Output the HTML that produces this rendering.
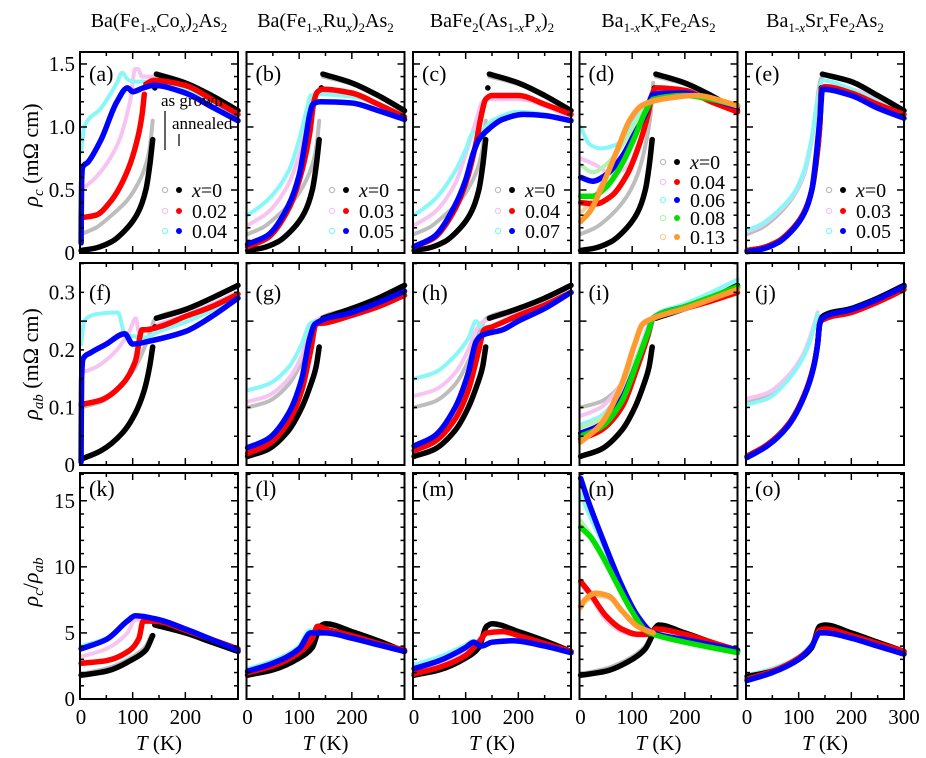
<!DOCTYPE html>
<html><head><meta charset="utf-8"><style>
body{margin:0;background:#fff}
svg{display:block;font-family:"Liberation Serif",serif}
svg text{font-family:"Liberation Serif",serif}
</style></head><body>
<svg id="chart" width="926" height="758" viewBox="0 0 926 758" xmlns="http://www.w3.org/2000/svg" font-family="Liberation Serif, serif"></svg>
<script>
// ---------- data (T in K, value) ----------
const tempTicks=[0,100,200,300];
const row1Ticks=[0,0.5,1.0,1.5], row1Labels=["0","0.5","1.0","1.5"];
const row2Ticks=[0,0.1,0.2,0.3], row2Labels=["0","0.1","0.2","0.3"];
const row3Ticks=[0,5,10,15], row3Labels=["0","5","10","15"];
// rho_c
const a_gray=[[2,.15],[30,.2],[60,.3],[90,.42],[110,.55],[125,.7],[133,.85],[138,1.05],null,[145,1.4],[200,1.34],[250,1.24],[300,1.12]];
const a_black=[[2,.02],[30,.04],[60,.09],[90,.2],[110,.32],[125,.5],[132,.68],[138,.9],null,[142,1.31],null,[145,1.42],[200,1.35],[250,1.25],[300,1.13]];
const a_pink=[[2,.5],[30,.6],[70,.85],[95,1.2],[105,1.46],[110,1.46],[118,1.4],[140,1.4],[200,1.35],[250,1.22],[300,1.1]];
const a_red=[[2,.28],[30,.3],[60,.42],[90,.65],[110,.92],[118,1.1],[122,1.26],null,[125,1.34],[140,1.37],[200,1.33],[250,1.22],[300,1.1]];
const a_cyan=[[2,.8],[8,1.0],[40,1.15],[70,1.35],[80,1.43],[90,1.38],[100,1.36],[140,1.36],[200,1.3],[250,1.18],[300,1.07]];
const a_blue=[[2,.08],[3,.55],[5,.68],[15,.72],[40,.9],[70,1.2],[90,1.31],[100,1.28],[120,1.31],[140,1.33],[200,1.27],[250,1.16],[300,1.05]];
const b_gray=a_gray, b_black=a_black;
const b_pink=[[2,.22],[40,.32],[80,.55],[105,.85],[120,1.1],[130,1.27],[145,1.29],[200,1.25],[300,1.08]];
const b_red=[[2,.05],[40,.12],[80,.35],[105,.65],[120,.95],[128,1.2],[135,1.28],[145,1.3],[200,1.27],[250,1.18],[300,1.08]];
const b_cyan=[[2,.3],[40,.42],[80,.65],[100,.9],[115,1.15],[122,1.25],[140,1.26],[200,1.24],[300,1.08]];
const b_blue=[[2,.07],[40,.14],[80,.38],[100,.62],[112,.9],[120,1.1],[126,1.18],[140,1.2],[200,1.19],[250,1.13],[300,1.06]];
const c_gray=a_gray, c_black=a_black;
const c_pink=[[2,.22],[40,.32],[80,.55],[105,.85],[120,1.05],[132,1.2],[150,1.22],[200,1.22],[300,1.08]];
const c_red=[[2,.05],[40,.12],[80,.35],[105,.62],[120,.88],[130,1.1],[138,1.22],[150,1.25],[200,1.25],[250,1.18],[300,1.1]];
const c_cyan=[[2,.3],[40,.42],[80,.65],[100,.82],[115,.96],[125,.96],[150,1.05],[200,1.12],[250,1.1],[300,1.05]];
const c_blue=[[2,.05],[40,.13],[80,.38],[100,.58],[115,.8],[125,.9],[140,.97],[170,1.06],[210,1.1],[250,1.09],[300,1.05]];
const d_gray=[[2,.15],[30,.2],[60,.3],[90,.45],[110,.62],[125,.85],[135,1.1],[140,1.35],null,[145,1.4],[200,1.34],[250,1.24],[300,1.12]];
const d_black=a_black;
const d_pink=[[2,.75],[30,.7],[60,.63],[90,.68],[115,.9],[130,1.1],[140,1.28],[200,1.28],[300,1.12]];
const d_red=[[2,.4],[30,.39],[60,.45],[90,.62],[115,.88],[130,1.1],[138,1.26],[145,1.31],[200,1.29],[250,1.2],[300,1.12]];
const d_cyan=[[2,1.0],[20,.86],[40,.83],[70,.86],[90,.95],[110,1.08],[130,1.2],[140,1.27],[200,1.27],[300,1.15]];
const d_blue=[[2,.6],[25,.57],[50,.62],[80,.76],[105,.95],[125,1.1],[140,1.26],[200,1.27],[250,1.22],[300,1.16]];
const d_lgreen=[[2,.7],[25,.64],[50,.7],[80,.85],[110,1.05],[130,1.18],[140,1.22]];
const d_green=[[2,.45],[25,.45],[50,.52],[80,.7],[105,.92],[125,1.12],[140,1.22],[200,1.25],[250,1.22],[300,1.17]];
const d_lorange=[[2,.32],[25,.42],[50,.62],[75,.85],[95,1.05],[115,1.15],[130,1.2]];
const d_orange=[[2,.25],[20,.33],[45,.55],[70,.8],[95,1.05],[115,1.16],[135,1.2],[170,1.23],[220,1.25],[300,1.17]];
const e_gray=[[2,.15],[30,.2],[60,.3],[90,.45],[110,.62],[125,.9],[132,1.1],[138,1.3],[142,1.38],[145,1.4]];
const e_pink=[[2,.17],[30,.22],[60,.32],[90,.46],[110,.63],[125,.9],[135,1.2],[145,1.33],[200,1.3],[300,1.1]];
const e_cyan=[[2,.18],[30,.23],[60,.33],[90,.47],[110,.65],[125,.92],[135,1.2],[145,1.37],[200,1.3],[250,1.2],[300,1.1]];
const e_black=[[2,.02],[30,.04],[60,.09],[90,.2],[110,.32],[125,.5],[132,.68],[140,1.0],[143,1.31],null,[145,1.42],[200,1.36],[250,1.25],[300,1.13]];
const e_red=[[2,.02],[30,.04],[60,.09],[90,.2],[110,.32],[125,.5],[132,.7],[140,1.0],[143,1.3],[150,1.32],[200,1.27],[250,1.18],[300,1.1]];
const e_blue=[[2,.01],[30,.03],[60,.08],[90,.19],[110,.31],[125,.5],[134,.8],[141,1.1],[145,1.3],[200,1.25],[250,1.15],[300,1.07]];
// rho_ab
const f_gray=[[2,.1],[40,.11],[80,.14],[105,.17],[125,.21],[135,.235],[140,.25],[145,.255],[200,.272],[250,.29],[300,.312]];
const f_black=[[2,.01],[40,.025],[80,.055],[105,.09],[122,.13],[132,.17],[138,.205],null,[142,.24],null,[145,.255],[200,.27],[250,.29],[300,.312]];
const f_pink=[[2,.16],[30,.17],[70,.2],[95,.235],[106,.255],[112,.23],[125,.235],[150,.245],[200,.26],[300,.3]];
const f_red=[[2,.105],[40,.113],[80,.14],[105,.18],[118,.235],[125,.235],[150,.24],[200,.258],[250,.275],[300,.297]];
const f_cyan=[[2,.21],[8,.25],[30,.262],[72,.265],[85,.228],[100,.224],[125,.222],[150,.232],[200,.248],[300,.29]];
const f_blue=[[2,.005],[3,.15],[6,.185],[20,.195],[50,.21],[85,.228],[100,.21],[130,.215],[200,.232],[250,.258],[300,.29]];
const g_gray=[[2,.1],[40,.11],[80,.14],[105,.18],[122,.22],[132,.245],[140,.255],[200,.272],[300,.312]];
const g_black=[[2,.015],[40,.027],[80,.06],[105,.1],[122,.14],[132,.17],[138,.205],null,[145,.255],[200,.272],[250,.29],[300,.312]];
const g_pink=[[2,.11],[40,.12],[80,.15],[105,.19],[120,.235],[130,.25],[200,.268],[300,.305]];
const g_red=[[2,.02],[40,.035],[80,.075],[105,.13],[122,.2],[132,.245],[150,.247],[200,.26],[250,.275],[300,.295]];
const g_cyan=[[2,.13],[40,.14],[80,.17],[105,.21],[120,.245],[130,.25]];
const g_blue=[[2,.03],[40,.045],[80,.09],[105,.15],[120,.22],[130,.245],[200,.265],[250,.282],[300,.302]];
const h_gray=g_gray, h_black=g_black;
const h_pink=[[2,.12],[40,.13],[80,.16],[105,.2],[120,.235],[135,.25],[200,.265],[300,.3]];
const h_red=[[2,.025],[40,.04],[80,.08],[105,.13],[125,.2],[135,.235],[150,.24],[200,.26],[250,.278],[300,.3]];
const h_cyan=[[2,.15],[40,.16],[80,.19],[105,.22],[120,.25],[130,.24],[150,.24]];
const h_blue=[[2,.033],[40,.05],[80,.1],[105,.16],[120,.215],[130,.225],[170,.235],[200,.25],[250,.272],[300,.3]];
const i_gray=[[2,.1],[40,.11],[80,.14],[105,.18],[122,.22],[135,.25],[140,.255]];
const i_black=[[2,.015],[40,.027],[80,.06],[105,.1],[122,.14],[132,.17],[138,.205],null,[145,.255],[200,.272],[250,.29],[300,.312]];
const i_pink=[[2,.085],[40,.1],[80,.14],[110,.19],[130,.24],[140,.255],[200,.275],[300,.31]];
const i_red=[[2,.045],[40,.06],[80,.1],[110,.17],[130,.225],[140,.255],[200,.272],[250,.285],[300,.3]];
const i_cyan=[[2,.07],[40,.085],[80,.13],[110,.19],[130,.235],[140,.258],[200,.28],[250,.3],[300,.322]];
const i_blue=[[2,.055],[40,.07],[80,.115],[110,.18],[130,.23],[140,.255],[200,.275],[250,.29],[300,.308]];
const i_lgreen=[[2,.065],[40,.08],[80,.125],[110,.19],[130,.235],[140,.255]];
const i_green=[[2,.05],[40,.065],[80,.11],[110,.18],[130,.23],[140,.255],[200,.275],[250,.292],[300,.31]];
const i_lorange=[[2,.045],[40,.075],[80,.14],[105,.21],[120,.245],[140,.255]];
const i_orange=[[2,.04],[40,.07],[80,.14],[105,.21],[120,.245],[140,.255],[200,.272],[300,.305]];
const j_gray=[[2,.11],[40,.12],[80,.15],[110,.19],[128,.235],[136,.265]];
const j_pink=[[2,.115],[40,.125],[80,.155],[110,.195],[128,.24],[136,.265]];
const j_cyan=[[2,.105],[40,.115],[80,.148],[110,.19],[128,.235],[136,.262]];
const j_black=[[2,.015],[40,.035],[80,.07],[110,.12],[128,.17],[136,.21],[140,.245],[145,.258],[200,.272],[250,.29],[300,.312]];
const j_red=[[2,.015],[40,.035],[80,.07],[110,.12],[128,.17],[136,.21],[140,.245],[145,.252],[200,.265],[250,.283],[300,.305]];
const j_blue=[[2,.013],[40,.033],[80,.068],[110,.118],[128,.168],[136,.21],[140,.245],[145,.255],[200,.27],[250,.288],[300,.31]];
// ratio
const k_gray=[[2,1.9],[50,2.3],[100,3.2],[125,4.0],[135,4.8]];
const k_black=[[2,1.8],[50,2.1],[100,3.0],[125,3.7],[138,4.8],null,[142,5.6],[200,5.0],[250,4.3],[300,3.6]];
const k_pink=[[2,3.2],[50,3.8],[90,5.0],[105,6.0],[150,5.8],[200,5.2],[300,3.8]];
const k_red=[[2,2.7],[50,2.9],[95,3.7],[112,4.6],[120,5.9],[150,5.85],[200,5.2],[250,4.5],[300,3.8]];
const k_cyan=[[2,4.0],[50,4.6],[90,5.9],[105,6.3],[150,6.0],[200,5.2],[300,3.6]];
const k_blue=[[2,3.8],[50,4.5],[90,5.9],[105,6.3],[150,6.0],[200,5.3],[250,4.5],[300,3.7]];
const l_gray=[[2,1.9],[50,2.3],[100,3.2],[125,4.1],[138,5.0]];
const l_black=[[2,1.8],[50,2.2],[100,3.1],[125,3.9],[140,5.5],[150,5.7],[200,5.1],[250,4.4],[300,3.6]];
const l_pink=[[2,2.1],[50,2.6],[100,3.7],[125,4.8],[135,5.2]];
const l_cyan=[[2,2.3],[50,2.9],[100,4.0],[120,5.2],[130,5.0]];
const l_red=[[2,2.0],[50,2.5],[100,3.5],[125,4.6],[135,5.5],[150,5.3],[200,4.8],[250,4.2],[300,3.7]];
const l_blue=[[2,2.1],[50,2.7],[100,3.8],[122,5.0],[140,5.0],[150,5.0],[200,4.6],[250,4.1],[300,3.6]];
const m_gray=l_gray, m_black=l_black;
const m_pink=[[2,2.0],[50,2.5],[100,3.5],[125,4.5],[140,5.0]];
const m_cyan=[[2,2.6],[50,3.2],[100,4.1],[115,4.4],[125,4.3]];
const m_red=[[2,1.9],[50,2.4],[100,3.3],[125,4.3],[140,5.0],[170,5.1],[200,4.8],[250,4.2],[300,3.6]];
const m_blue=[[2,2.3],[50,2.9],[100,3.9],[115,4.3],[130,4.0],[150,4.3],[190,4.4],[250,4.0],[300,3.5]];
const n_gray=[[2,1.9],[50,2.3],[100,3.2],[125,4.0],[138,5.0]];
const n_black=[[2,1.8],[50,2.1],[100,3.0],[125,3.8],[138,4.8],null,[142,5.3],[150,5.6],[200,5.0],[250,4.3],[300,3.6]];
const n_pink=[[2,8.7],[20,7.8],[50,6.0],[80,5.1],[110,4.8],[130,4.8]];
const n_red=[[2,8.9],[20,8.0],[50,6.3],[80,5.3],[110,4.9],[130,4.9],[145,5.3],[200,4.9],[250,4.3],[300,3.7]];
const n_cyan=[[2,15.5],[20,13.8],[50,11.2],[80,8.4],[110,6.2],[140,5.0]];
const n_blue=[[2,16.7],[20,14.6],[50,11.5],[80,8.6],[110,6.3],[140,5.0],[200,4.5],[250,4.1],[300,3.7]];
const n_lgreen=[[2,13.5],[20,12.5],[50,10.5],[80,8.2],[110,6.0]];
const n_green=[[2,13.0],[20,12.3],[45,10.7],[70,8.8],[100,6.6],[125,5.2],[140,4.9],[200,4.3],[250,3.9],[300,3.5]];
const n_lorange=[[2,6.8],[10,7.3],[30,7.8],[60,7.6],[80,6.6]];
const n_orange=[[2,7.0],[10,7.5],[30,8.0],[55,7.8],[80,6.7],[110,5.5],[140,5.0]];
const o_gray=[[2,1.8],[50,2.3],[100,3.2],[125,4.2],[138,5.0]];
const o_pink=[[2,1.75],[50,2.25],[100,3.15],[125,4.15],[138,5.0]];
const o_cyan=[[2,1.8],[50,2.3],[100,3.2],[125,4.2],[138,5.05]];
const o_black=[[2,1.7],[50,2.1],[100,3.0],[125,3.9],[140,5.5],[150,5.6],[200,5.0],[250,4.3],[300,3.6]];
const o_red=[[2,1.5],[50,2.1],[100,3.1],[125,4.0],[140,5.2],[150,5.3],[200,4.8],[250,4.2],[300,3.6]];
const o_blue=[[2,1.4],[50,2.0],[100,3.0],[125,4.0],[140,5.0],[150,5.0],[200,4.6],[250,4.0],[300,3.4]];

// ---------- drawing ----------
const NS="http://www.w3.org/2000/svg";
const svg=document.getElementById('chart');
const colLeft=[80,246.5,413,579.5,746], panelW=158;
const rows=[{top:52,bottom:253,max:1.595,ticks:row1Ticks,labels:row1Labels,minor:0.1},
            {top:263,bottom:465,max:0.351,ticks:row2Ticks,labels:row2Labels,minor:0.05},
            {top:473,bottom:699,max:17.1,ticks:row3Ticks,labels:row3Labels,minor:1}];
const C={gray:"#bdbdbd",black:"#000",pink:"#f7c4f2",red:"#ff0000",cyan:"#88f7f7",blue:"#0000ff",lgreen:"#b4f2b4",green:"#00e000",lorange:"#fbcf9a",orange:"#ff9a30"};
const panelSeries=[
 [[a_gray,"gray"],[a_pink,"pink"],[a_cyan,"cyan"],[a_black,"black"],[a_red,"red"],[a_blue,"blue"]],
 [[b_gray,"gray"],[b_pink,"pink"],[b_cyan,"cyan"],[b_black,"black"],[b_red,"red"],[b_blue,"blue"]],
 [[c_gray,"gray"],[c_pink,"pink"],[c_cyan,"cyan"],[c_black,"black"],[c_red,"red"],[c_blue,"blue"]],
 [[d_gray,"gray"],[d_pink,"pink"],[d_cyan,"cyan"],[d_lgreen,"lgreen"],[d_lorange,"lorange"],[d_black,"black"],[d_red,"red"],[d_blue,"blue"],[d_green,"green"],[d_orange,"orange"]],
 [[e_gray,"gray"],[e_pink,"pink"],[e_cyan,"cyan"],[e_black,"black"],[e_red,"red"],[e_blue,"blue"]],
 [[f_gray,"gray"],[f_pink,"pink"],[f_cyan,"cyan"],[f_black,"black"],[f_red,"red"],[f_blue,"blue"]],
 [[g_gray,"gray"],[g_pink,"pink"],[g_cyan,"cyan"],[g_black,"black"],[g_red,"red"],[g_blue,"blue"]],
 [[h_gray,"gray"],[h_pink,"pink"],[h_cyan,"cyan"],[h_black,"black"],[h_red,"red"],[h_blue,"blue"]],
 [[i_gray,"gray"],[i_pink,"pink"],[i_cyan,"cyan"],[i_lgreen,"lgreen"],[i_lorange,"lorange"],[i_black,"black"],[i_red,"red"],[i_blue,"blue"],[i_green,"green"],[i_orange,"orange"]],
 [[j_gray,"gray"],[j_pink,"pink"],[j_cyan,"cyan"],[j_black,"black"],[j_red,"red"],[j_blue,"blue"]],
 [[k_gray,"gray"],[k_pink,"pink"],[k_cyan,"cyan"],[k_black,"black"],[k_red,"red"],[k_blue,"blue"]],
 [[l_gray,"gray"],[l_pink,"pink"],[l_cyan,"cyan"],[l_black,"black"],[l_red,"red"],[l_blue,"blue"]],
 [[m_gray,"gray"],[m_pink,"pink"],[m_cyan,"cyan"],[m_black,"black"],[m_red,"red"],[m_blue,"blue"]],
 [[n_gray,"gray"],[n_pink,"pink"],[n_cyan,"cyan"],[n_lgreen,"lgreen"],[n_lorange,"lorange"],[n_black,"black"],[n_red,"red"],[n_blue,"blue"],[n_green,"green"],[n_orange,"orange"]],
 [[o_gray,"gray"],[o_pink,"pink"],[o_cyan,"cyan"],[o_black,"black"],[o_red,"red"],[o_blue,"blue"]]
];
const letters="abcdefghijklmno";
const FONT='"Liberation Serif", serif';
function el(tag,attrs,parent){const e=document.createElementNS(NS,tag);for(const k in attrs)e.setAttribute(k,attrs[k]);if(tag==='text')e.setAttribute('font-family',FONT);(parent||svg).appendChild(e);return e;}
const light={gray:1,pink:1,cyan:1,lgreen:1,lorange:1};

// monotone cubic path through pixel points
function monoPath(P){
  const n=P.length;
  if(n===1)return 'M'+P[0][0].toFixed(1)+','+P[0][1].toFixed(1)+'l0.1,0';
  if(n===2)return 'M'+P[0][0].toFixed(1)+','+P[0][1].toFixed(1)+'L'+P[1][0].toFixed(1)+','+P[1][1].toFixed(1);
  const dx=[],s=[];
  for(let i=0;i<n-1;i++){dx.push(P[i+1][0]-P[i][0]);s.push((P[i+1][1]-P[i][1])/(dx[i]||1e-6));}
  const m=[s[0]];
  for(let i=1;i<n-1;i++){
    if(s[i-1]*s[i]<=0)m.push(0);
    else{const w1=2*dx[i]+dx[i-1],w2=dx[i]+2*dx[i-1];m.push((w1+w2)/(w1/s[i-1]+w2/s[i]));}
  }
  m.push(s[n-2]);
  let d='M'+P[0][0].toFixed(1)+','+P[0][1].toFixed(1);
  for(let i=0;i<n-1;i++){
    const h=dx[i]/3;
    d+='C'+(P[i][0]+h).toFixed(1)+','+(P[i][1]+m[i]*h).toFixed(1)+' '+(P[i+1][0]-h).toFixed(1)+','+(P[i+1][1]-m[i+1]*h).toFixed(1)+' '+P[i+1][0].toFixed(1)+','+P[i+1][1].toFixed(1);
  }
  return d;
}

for(let r=0;r<3;r++){
 const R=rows[r];
 for(let c=0;c<5;c++){
  const L=colLeft[c];
  const xs=t=>L+t/300*panelW, ys=v=>R.bottom-v/R.max*(R.bottom-R.top);
  const g=el('g',{});
  
  
  panelSeries[r*5+c].forEach(([pts,col])=>{
    let segs=[[]];
    pts.forEach(p=>{if(p===null)segs.push([]);else segs[segs.length-1].push(p);});
    segs.forEach(s=>{
      if(!s.length)return;
      const P=s.map(p=>[xs(Math.min(p[0],300)),ys(p[1])]);
      const path=el('path',{d:monoPath(P),fill:'none',stroke:C[col],'stroke-width':light[col]?4:5.5,'stroke-linecap':'round','stroke-linejoin':'round'},g);
      
      
    });
  });
  const fr=el('rect',{x:L,y:R.top,width:panelW,height:R.bottom-R.top,fill:'none',stroke:'#000','stroke-width':2},g);
  
  
  for(let t=50;t<300;t+=50){
    const len=t%100===0?7:4;
    el('line',{x1:xs(t),x2:xs(t),y1:R.bottom,y2:R.bottom-len,stroke:'#000','stroke-width':1.5},g);
    el('line',{x1:xs(t),x2:xs(t),y1:R.top,y2:R.top+len,stroke:'#000','stroke-width':1.5},g);
  }
  for(let k=1;k*R.minor<R.max;k++){
    const v=k*R.minor;
    const len=k%5===0?7:4;
    el('line',{x1:L,x2:L+len,y1:ys(v),y2:ys(v),stroke:'#000','stroke-width':1.5},g);
    el('line',{x1:L+panelW,x2:L+panelW-len,y1:ys(v),y2:ys(v),stroke:'#000','stroke-width':1.5},g);
  }
  const lt=el('text',{x:L+9,y:R.top+(r===0?29:r===1?37:23),'font-size':22},g);
  lt.textContent='('+letters[r*5+c]+')';
  
  
  if(c===0){
    R.ticks.forEach((tk,i)=>{
      const tl=el('text',{x:L-5,y:ys(tk)+7,'font-size':21,'text-anchor':'end'});
      tl.textContent=R.labels[i];
      
      
    });
  }
  if(r===2){
    const shown=c===4?tempTicks:tempTicks.slice(0,3);
    shown.forEach(t=>{
      const tl=el('text',{x:xs(t)+(t===0?1:0),y:724,'font-size':21,'text-anchor':'middle'});
      tl.textContent=String(t);
      
      
    });
    const xl=el('text',{x:L+panelW/2,y:750,'font-size':21,'text-anchor':'middle'});
    const ti=el('tspan',{'font-style':'italic'},xl);ti.textContent='T';
    const tk=el('tspan',{},xl);tk.textContent=' (K)';
    
    
  }
 }
}
function richText(parent,parts,sub){
  let prevSub=false;
  parts.forEach(([txt,mode])=>{
    const isSub=!!(mode&&mode.includes('s'));
    const a={};
    if(isSub)a['font-size']=sub;
    if(mode&&mode.includes('i'))a['font-style']='italic';
    if(isSub&&!prevSub)a.dy=5; else if(!isSub&&prevSub)a.dy=-5;
    const ts=el('tspan',a,parent);
    ts.textContent=txt;
    prevSub=isSub;
  });
}
const titleParts=[
 [['Ba(Fe',''],['1-','s'],['x','si'],['Co',''],['x','si'],[')',''],['2','s'],['As',''],['2','s']],
 [['Ba(Fe',''],['1-','s'],['x','si'],['Ru',''],['x','si'],[')',''],['2','s'],['As',''],['2','s']],
 [['BaFe',''],['2','s'],['(As',''],['1-','s'],['x','si'],['P',''],['x','si'],[')',''],['2','s']],
 [['Ba',''],['1-','s'],['x','si'],['K',''],['x','si'],['Fe',''],['2','s'],['As',''],['2','s']],
 [['Ba',''],['1-','s'],['x','si'],['Sr',''],['x','si'],['Fe',''],['2','s'],['As',''],['2','s']]];
titleParts.forEach((p,i)=>{
  const te=el('text',{x:colLeft[i]+panelW/2,y:27,'font-size':20,'text-anchor':'middle'});
  richText(te,p,13);
  
  
});
const yTitles=[[155,[['ρ','i'],['c','si'],[' (mΩ cm)','']]],
 [364,[['ρ','i'],['ab','si'],[' (mΩ cm)','']]],
 [582,[['ρ','i'],['c','si'],['/',''],['ρ','i'],['ab','si']]]];
yTitles.forEach(([y,p])=>{
  const te=el('text',{x:0,y:0,'font-size':22,'text-anchor':'middle',transform:`translate(38,${y}) rotate(-90)`});
  richText(te,p,15);
  
  
});
const legends=[
 {ox:165,rows:[[190,'x=0','gray','black'],[211,'0.02','pink','red'],[231,'0.04','cyan','blue']]},
 {ox:332,rows:[[190,'x=0','gray','black'],[211,'0.03','pink','red'],[231,'0.05','cyan','blue']]},
 {ox:498,rows:[[190,'x=0','gray','black'],[211,'0.04','pink','red'],[231,'0.07','cyan','blue']]},
 {ox:663,rows:[[162,'x=0','gray','black'],[182,'0.04','pink','red'],[200,'0.06','cyan','blue'],[218,'0.08','lgreen','green'],[237,'0.13','lorange','orange']]},
 {ox:829,rows:[[190,'x=0','gray','black'],[211,'0.03','pink','red'],[231,'0.05','cyan','blue']]}];
legends.forEach(lg=>{
  lg.rows.forEach(([y,txt,oc,fc])=>{
    const o=el('circle',{cx:lg.ox,cy:y,r:2.6,fill:'none',stroke:C[oc],'stroke-width':1.3});
    
    
    const f=el('circle',{cx:lg.ox+14,cy:y,r:3,fill:C[fc]});
    
    
    const t=el('text',{x:lg.ox+27,y:y+7,'font-size':20});
    if(txt==='x=0'){const a=el('tspan',{'font-style':'italic'},t);a.textContent='x';const b=el('tspan',{},t);b.textContent='=0';}
    else t.textContent=txt;
    
    
  });
});
const ag=el('text',{x:161,y:106,'font-size':17});ag.textContent='as grown';


const an=el('text',{x:172,y:129,'font-size':17});an.textContent='annealed';


el('line',{x1:165,x2:165,y1:111,y2:150,stroke:'#000','stroke-width':1.2});
el('line',{x1:179,x2:179,y1:134,y2:146,stroke:'#000','stroke-width':1.2});
</script>
</body></html>
